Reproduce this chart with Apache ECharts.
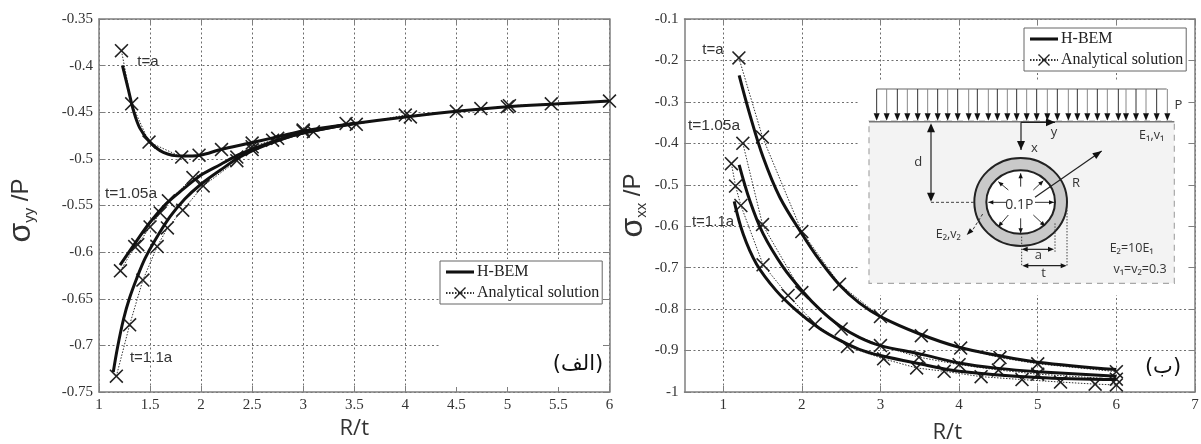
<!DOCTYPE html>
<html><head><meta charset="utf-8">
<style>html,body{margin:0;padding:0;background:#fff}#c{width:1201px;height:444px}</style>
<script src="https://cdn.jsdelivr.net/npm/echarts@6/dist/echarts.min.js"></script>
</head><body><div id="c"></div>
<script>
// ---- Data: left panel (sigma_yy / P), pairs of R/t and value
const yyHbemA = [[1.23,-0.40],[1.288,-0.426],[1.337,-0.448],[1.40,-0.467],[1.5,-0.482],[1.63,-0.493],[1.81,-0.497],[1.99,-0.496],[2.19,-0.49],[2.48,-0.483],[2.68,-0.478],[3.0,-0.47],[3.5,-0.462],[4,-0.455],[4.5,-0.449],[5,-0.444],[5.5,-0.441],[6,-0.438]];
const yyHbemB = [[1.206,-0.614],[1.337,-0.593],[1.5,-0.568],[1.66,-0.548],[1.83,-0.532],[1.99,-0.518],[2.19,-0.506],[2.38,-0.495],[2.64,-0.484],[2.97,-0.473],[3.5,-0.462]];
const yyHbemC = [[1.14,-0.7285],[1.18,-0.703],[1.24,-0.672],[1.3,-0.649],[1.37,-0.628],[1.45,-0.607],[1.55,-0.587],[1.696,-0.562],[1.84,-0.543],[1.99,-0.528],[2.19,-0.512],[2.38,-0.498],[2.64,-0.485],[2.97,-0.473],[3.5,-0.462]];
const yyExactA = [[1.22,-0.384],[1.32,-0.441],[1.49,-0.482],[1.81,-0.498],[1.98,-0.496],[2.2,-0.49],[2.5,-0.483],[3.0,-0.469],[3.1,-0.471],[3.42,-0.462],[3.52,-0.463],[4.0,-0.453],[4.05,-0.455],[4.5,-0.449],[4.74,-0.446],[5.0,-0.444],[5.02,-0.443],[5.43,-0.441],[6.0,-0.438]];
const yyExactB = [[1.21,-0.62],[1.35,-0.594],[1.38,-0.592],[1.5,-0.573],[1.6,-0.558],[1.68,-0.545],[1.92,-0.52],[2.35,-0.498],[2.5,-0.487],[2.7,-0.48],[3.0,-0.47]];
const yyExactC = [[1.17,-0.733],[1.3,-0.678],[1.43,-0.63],[1.57,-0.594],[1.67,-0.574],[1.82,-0.555],[2.02,-0.529],[2.35,-0.502],[2.5,-0.49],[2.75,-0.478],[3.0,-0.47]];
// ---- Data: right panel (sigma_xx / P)
const xxHbemA = [[1.203,-0.236],[1.338,-0.33],[1.507,-0.433],[1.72,-0.53],[2,-0.618],[2.226,-0.682],[2.48,-0.742],[2.73,-0.785],[3,-0.818],[3.5,-0.86],[4,-0.892],[4.5,-0.912],[5,-0.928],[6,-0.946]];
const xxHbemB = [[1.203,-0.452],[1.338,-0.538],[1.507,-0.618],[1.76,-0.698],[2,-0.755],[2.226,-0.80],[2.48,-0.84],[2.73,-0.868],[3,-0.888],[3.5,-0.908],[4,-0.93],[4.5,-0.943],[5,-0.951],[6,-0.962]];
const xxHbemC = [[1.14,-0.54],[1.254,-0.619],[1.423,-0.691],[1.677,-0.756],[1.93,-0.803],[2.226,-0.847],[2.48,-0.875],[2.73,-0.897],[3,-0.912],[3.5,-0.932],[4,-0.95],[5,-0.965],[6,-0.97]];
const xxExactA = [[1.2,-0.194],[1.5,-0.385],[2,-0.613],[2.48,-0.74],[3,-0.818],[3.52,-0.864],[4.02,-0.894],[4.52,-0.917],[5,-0.932],[6,-0.951]];
const xxExactB = [[1.25,-0.4],[1.5,-0.596],[2,-0.76],[2.5,-0.848],[3,-0.888],[3.49,-0.916],[4,-0.934],[4.5,-0.947],[5,-0.957],[6,-0.969]];
const xxExactC = [[1.105,-0.449],[1.157,-0.503],[1.225,-0.55],[1.507,-0.693],[1.825,-0.767],[2.17,-0.836],[2.58,-0.89],[3.04,-0.92],[3.46,-0.942],[3.81,-0.95],[4.28,-0.963],[4.8,-0.97],[5.29,-0.976],[5.73,-0.981],[6,-0.983]];
// ---- Tick labels / names
const xTicksRight = [1,2,3,4,5,6,7];
const hbemName = 'H-BEM';
const exactName = 'Analytical solution';

const AX='#7f7f7f', TXT='#333', GRIDC='#6f6f6f';
const CROSS='path://M0 8L8 0L50 42L92 0L100 8L58 50L100 92L92 100L50 58L8 100L0 92L42 50Z';
const SERIF='"Liberation Serif"', SANS='"Liberation Sans"', CAL='"Open Sans"';

function hbem(data,i){return {name:hbemName,type:'line',xAxisIndex:i,yAxisIndex:i,data,showSymbol:false,symbol:'none',smooth:0.35,
  lineStyle:{color:'#111',width:3},itemStyle:{color:'#111'},z:3,clip:false};}
function exact(data,i){return {name:exactName,type:'line',xAxisIndex:i,yAxisIndex:i,data,symbol:CROSS,symbolSize:14,showAllSymbol:true,
  lineStyle:{color:'#333',width:1,type:[1.5,1.5]},itemStyle:{color:'#222'},z:2,clip:false};}

const tick={show:true,inside:true,length:6,lineStyle:{color:AX,width:1}};
const split={show:true,lineStyle:{color:GRIDC,width:1,type:[2,2.5]}};
const line={show:true,onZero:false,lineStyle:{color:AX,width:1.5}};
const lab={color:TXT,fontFamily:SERIF,fontSize:15,margin:6};
const tickCustom=Object.assign({},tick,{customValues:xTicksRight});

function sigmaName(sub){return '{s|σ}{b|'+sub+'}{p| /P}';}
const nameRich={s:{fontFamily:SANS,fontSize:32,color:TXT},b:{fontFamily:SANS,fontSize:15,color:TXT,verticalAlign:'bottom',padding:[10,0,0,0]},p:{fontFamily:SANS,fontSize:24,color:TXT}};
const xName={fontFamily:CAL,fontSize:22,color:TXT};

const xAxis=[
 {gridIndex:0,type:'value',min:1,max:6,interval:0.5,position:'bottom',name:'R/t',nameLocation:'middle',nameGap:25,nameTextStyle:xName,axisLine:line,axisTick:tick,axisLabel:lab,splitLine:split},
 {gridIndex:1,type:'value',min:0.508,max:7,position:'bottom',name:'R/t',nameLocation:'middle',nameGap:30,nameTextStyle:Object.assign({},xName,{padding:[0,0,0,15]}),axisLine:line,axisTick:tickCustom,
   axisLabel:Object.assign({},lab,{customValues:xTicksRight}),splitLine:split},
 {gridIndex:0,type:'value',min:1,max:6,interval:0.5,position:'top',axisLine:line,axisTick:tick,axisLabel:{show:false},splitLine:{show:false}},
 {gridIndex:1,type:'value',min:0.508,max:7,position:'top',axisLine:line,axisTick:tickCustom,axisLabel:{show:false,customValues:xTicksRight},splitLine:{show:false}}
];
const yAxis=[
 {gridIndex:0,type:'value',min:-0.75,max:-0.35,interval:0.05,name:sigmaName('yy'),nameLocation:'middle',nameGap:62,nameRotate:90,nameTextStyle:{rich:nameRich,padding:[0,10,0,0]},axisLine:line,axisTick:tick,axisLabel:lab,splitLine:split},
 {gridIndex:1,type:'value',min:-1,max:-0.1,interval:0.1,name:sigmaName('xx'),nameLocation:'middle',nameGap:35,nameRotate:90,nameTextStyle:{rich:nameRich},axisLine:line,axisTick:tick,axisLabel:lab,splitLine:split},
 {gridIndex:0,type:'value',min:-0.75,max:-0.35,interval:0.05,position:'right',axisLine:line,axisTick:tick,axisLabel:{show:false},splitLine:{show:false}},
 {gridIndex:1,type:'value',min:-1,max:-0.1,interval:0.1,position:'right',axisLine:line,axisTick:tick,axisLabel:{show:false},splitLine:{show:false}}
];

const LINE_ICON='path://M0 0H100V11H0Z';
function legend(left,top){return {left,top,orient:'vertical',data:[{name:hbemName,icon:LINE_ICON},{name:exactName}],itemWidth:28,itemHeight:15,itemGap:5,
 padding:[3,3,3,5],backgroundColor:'#fff',borderColor:'#666',borderWidth:1,selectedMode:false,z:8,
 textStyle:{fontFamily:SERIF,fontSize:16,color:'#222',padding:[0,0,0,-2]}};}

// ---- Graphic annotations
const g=[];
function text(x,y,s,size,fam,col,z){g.push({type:'text',z:z||7,x,y,style:{text:s,fontSize:size,fontFamily:fam||SANS,fill:col||TXT,align:'center',verticalAlign:'middle'}});}
// white masks hiding grid lines
g.push({type:'rect',z:4,shape:{x:440,y:259,width:163,height:128},style:{fill:'#fff'}});
g.push({type:'rect',z:4,shape:{x:859,y:80,width:329,height:215},style:{fill:'#fff'}});
// curve labels
text(148,62,'t=a',15);text(131,194,'t=1.05a',15.5);text(151,358,'t=1.1a',15);
text(713,50,'t=a',15);text(714,126,'t=1.05a',15.5);text(713,222,'t=1.1a',15);
// panel tags
text(578,365,'(الف)',21,'"DejaVu Sans"','#111');
text(1163,368,'(ب)',21,'"DejaVu Sans"','#111');

// inset diagram (illustration coordinates, 3x zoom space)
const P=(x,y)=>[860+x/3,10+y/3];
function seg(a,b,col,w,dash,z){const p=P(a[0],a[1]),q=P(b[0],b[1]);g.push({type:'line',z:z||6,shape:{x1:p[0],y1:p[1],x2:q[0],y2:q[1]},style:{stroke:col||'#333',lineWidth:w||1,lineDash:dash||null}});}
function head(tip,from,len,wid,col){const t=P(tip[0],tip[1]),f=P(from[0],from[1]);const dx=t[0]-f[0],dy=t[1]-f[1],L=Math.hypot(dx,dy),ux=dx/L,uy=dy/L;
 g.push({type:'polygon',z:6,shape:{points:[t,[t[0]-ux*len-uy*wid,t[1]-uy*len+ux*wid],[t[0]-ux*len+uy*wid,t[1]-uy*len-ux*wid]]},style:{fill:col||'#111'}});}
function arrow(a,b,col,w,len,wid){seg(a,b,col,w);head(b,a,len||8,wid||3,'#111');}
const o=P(27,333),o2=P(943,820);
g.push({type:'rect',z:5,shape:{x:o[0],y:o[1],width:o2[0]-o[0],height:o2[1]-o[1]},style:{fill:'#f3f3f3',stroke:'#a8a8a8',lineWidth:1.2,lineDash:[6,5]}});
seg([27,335],[943,335],'#777',1.5);
seg([50,237],[920,237],'#666',1);
[50,80,112,142,173,203,233,263,293,326,352,385,412,442,470,500,530,562,592,625,652,682,712,742,775,798,828,858,890,922].forEach((x,i)=>{
  seg([x,237],[x,310],i%2?'#888':'#333',1);head([x,332],[x,237],7.5,3,'#111');});
arrow([483,337],[585,337],'#222',1.2,9,4);arrow([483,337],[483,420],'#222',1.2,9,4);
seg([213,345],[213,570],'#222',1.2);head([213,340],[213,400],9,4);head([213,575],[213,500],9,4);
seg([213,577],[345,577],'#444',1,[3,2]);
const c=P(482,576);
g.push({type:'ellipse',z:5.5,shape:{cx:c[0],cy:c[1],rx:139/3,ry:132/3},style:{fill:'#c9c9c9',stroke:'#222',lineWidth:2}});
g.push({type:'ellipse',z:5.5,shape:{cx:c[0],cy:c[1],rx:103/3,ry:95/3},style:{fill:'#fff',stroke:'#222',lineWidth:2}});
[[[482,530],[482,490]],[[482,625],[482,670]],[[440,577],[385,577]],[[525,577],[582,577]],[[445,540],[415,515]],[[520,540],[550,512]],[[445,615],[415,650]],[[520,615],[555,648]]].forEach(s=>arrow(s[0],s[1],'#333',1,5,2.2));
arrow([525,562],[725,423],'#222',1.2,9,3.5);
seg([368,612],[338,660],'#333',1,[3,2]);head([320,675],[350,645],7,2.5);
seg([485,680],[485,767],'#444',1,[1.5,1.5]);seg([585,640],[585,728],'#444',1,[1.5,1.5]);seg([621,600],[621,767],'#444',1,[1.5,1.5]);
seg([495,718],[572,718],'#222',1.2);head([485,718],[520,718],6,2.5);head([582,718],[540,718],6,2.5);
seg([497,767],[610,767],'#222',1.2);head([487,767],[520,767],6,2.5);head([620,767],[580,767],6,2.5);
const IT=(x,y,s,size)=>{const p=P(x,y);text(p[0],p[1],s,size||12.5,CAL,'#333',7);};
IT(582,368,'y',13);IT(523,416,'x',13);IT(955,287,'P',13);IT(875,375,'E₁,v₁');IT(175,458,'d',13);IT(648,520,'R',13);
IT(265,672,'E₂,v₂');IT(478,585,'0.1P',14);IT(535,735,'a',13);IT(551,790,'t',13);IT(815,716,'E₂=10E₁');IT(840,777,'v₁=v₂=0.3');

const chart=echarts.init(document.getElementById('c'),null,{renderer:'canvas'});
chart.setOption({
 animation:false,backgroundColor:'#fff',
 grid:[{left:99,top:19,width:510.5,height:373,show:false,outerBoundsMode:'none'},{left:684.5,top:19,width:510.5,height:373,show:false,outerBoundsMode:'none'}],
 xAxis,yAxis,legend:[legend(440,261),legend(1024,28)],
 series:[hbem(yyHbemA,0),hbem(yyHbemB,0),hbem(yyHbemC,0),exact(yyExactA,0),exact(yyExactB,0),exact(yyExactC,0),
         hbem(xxHbemA,1),hbem(xxHbemB,1),hbem(xxHbemC,1),exact(xxExactA,1),exact(xxExactB,1),exact(xxExactC,1)],
 graphic:{elements:g}
});
</script></body></html>
